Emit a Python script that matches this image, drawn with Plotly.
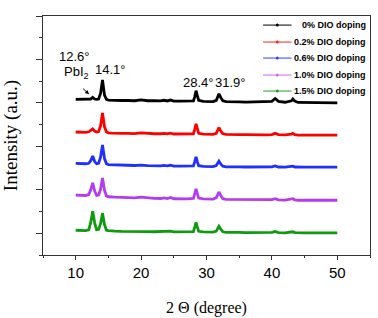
import plotly.graph_objects as go

# 2-theta positions (degrees)
two_theta = [10, 10.5, 11, 11.5, 12, 12.3, 12.6, 12.9, 13.2, 13.5, 13.8, 14.1, 14.4, 14.7, 15,
             15.5, 16, 17, 18, 19, 20, 21, 22, 23, 23.5, 24, 24.5, 25, 26, 27,
             28, 28.2, 28.4, 28.6, 28.8, 29.5, 30, 31, 31.5, 31.9, 32.2, 32.5, 33, 34, 35,
             36, 37, 38, 39, 40, 40.5, 41, 42, 43, 43.2, 43.5, 44, 45, 46, 47, 48, 49, 50]

labels = ["0% DIO doping", "0.2% DIO doping", "0.6% DIO doping", "1.0% DIO doping", "1.5% DIO doping"]
offsets = [3.0, 2.25, 1.5, 0.75, 0.0]

i_0 = [0.08, 0.08, 0.075, 0.075, 0.08, 0.09, 0.13, 0.09, 0.08, 0.09, 0.22, 0.53, 0.18, 0.08, 0.065,
       0.06, 0.06, 0.055, 0.055, 0.05, 0.07, 0.05, 0.05, 0.045, 0.06, 0.045, 0.065, 0.04, 0.04, 0.035,
       0.045, 0.14, 0.28, 0.17, 0.06, 0.035, 0.03, 0.03, 0.06, 0.21, 0.12, 0.05, 0.03, 0.035, 0.025,
       0.02, 0.02, 0.02, 0.02, 0.035, 0.10, 0.035, 0.015, 0.05, 0.09, 0.04, 0.01, 0.01, 0.005, 0.005, 0.0, 0.0, 0.0]
i_02 = [0.08, 0.075, 0.075, 0.07, 0.085, 0.11, 0.15, 0.10, 0.08, 0.09, 0.22, 0.52, 0.20, 0.08, 0.06,
        0.055, 0.05, 0.05, 0.05, 0.045, 0.06, 0.045, 0.04, 0.04, 0.05, 0.04, 0.055, 0.035, 0.035, 0.03,
        0.04, 0.14, 0.27, 0.16, 0.05, 0.03, 0.03, 0.025, 0.05, 0.18, 0.10, 0.04, 0.025, 0.03, 0.02,
        0.02, 0.015, 0.015, 0.015, 0.02, 0.05, 0.02, 0.015, 0.03, 0.05, 0.02, 0.01, 0.01, 0.01, 0.01, 0.01, 0.01, 0.01]
i_06 = [0.11, 0.105, 0.10, 0.10, 0.11, 0.17, 0.28, 0.15, 0.10, 0.11, 0.25, 0.53, 0.22, 0.10, 0.08,
        0.075, 0.07, 0.07, 0.065, 0.06, 0.07, 0.055, 0.05, 0.05, 0.06, 0.05, 0.065, 0.045, 0.045, 0.04,
        0.05, 0.15, 0.26, 0.15, 0.055, 0.04, 0.035, 0.035, 0.06, 0.16, 0.09, 0.045, 0.03, 0.035, 0.03,
        0.025, 0.025, 0.02, 0.025, 0.03, 0.05, 0.025, 0.02, 0.03, 0.045, 0.025, 0.02, 0.02, 0.02, 0.02, 0.02, 0.02, 0.02]
i_10 = [0.13, 0.125, 0.12, 0.12, 0.14, 0.25, 0.41, 0.22, 0.12, 0.13, 0.26, 0.52, 0.24, 0.11, 0.09,
        0.08, 0.08, 0.075, 0.07, 0.065, 0.08, 0.06, 0.055, 0.05, 0.065, 0.05, 0.075, 0.045, 0.04, 0.04,
        0.05, 0.16, 0.27, 0.16, 0.06, 0.04, 0.035, 0.035, 0.07, 0.20, 0.11, 0.045, 0.03, 0.03, 0.025,
        0.02, 0.02, 0.015, 0.02, 0.025, 0.045, 0.02, 0.015, 0.03, 0.045, 0.02, 0.01, 0.01, 0.01, 0.01, 0.01, 0.01, 0.01]
i_15 = [0.07, 0.065, 0.06, 0.06, 0.08, 0.25, 0.51, 0.24, 0.08, 0.09, 0.22, 0.46, 0.20, 0.07, 0.06,
        0.05, 0.05, 0.045, 0.045, 0.04, 0.055, 0.04, 0.035, 0.035, 0.05, 0.035, 0.05, 0.03, 0.03, 0.03,
        0.04, 0.14, 0.25, 0.14, 0.045, 0.03, 0.025, 0.025, 0.05, 0.16, 0.09, 0.035, 0.02, 0.025, 0.02,
        0.015, 0.015, 0.015, 0.02, 0.02, 0.04, 0.015, 0.01, 0.02, 0.035, 0.015, 0.01, 0.01, 0.01, 0.01, 0.01, 0.01, 0.01]

series = [i_0, i_02, i_06, i_10, i_15]
colors = ["#000000", "#ff0000", "#1f2fff", "#b43cf0", "#0f9a0f"]
legend_colors = ["#000000", "#ff2020", "#3040ff", "#cc66ff", "#2a9a2a"]

fig = go.Figure()
for vals, off, col, lab in zip(series, offsets, colors, labels):
    fig.add_trace(go.Scatter(
        x=two_theta, y=[v + off for v in vals], mode="lines", name=lab,
        line=dict(color=col, width=2.8), showlegend=False))

# compact legend (rows in paper coordinates)
legend_rows = [0.962, 0.891, 0.824, 0.753, 0.686]
leg_font = dict(family="Liberation Sans, Arial, sans-serif", size=9, color="black", weight="bold")
for lab, col, yr in zip(labels, legend_colors, legend_rows):
    fig.add_shape(type="line", xref="paper", yref="paper", x0=0.673, x1=0.76, y0=yr, y1=yr,
                  line=dict(color=col, width=1))
    fig.add_shape(type="circle", xref="paper", yref="paper", x0=0.712, x1=0.721,
                  y0=yr - 0.0063, y1=yr + 0.0063, fillcolor=col, line=dict(color=col, width=0))
    fig.add_annotation(x=0.994, y=yr, xref="paper", yref="paper", text=lab, showarrow=False,
                       xanchor="right", yanchor="middle", font=leg_font)

ann_font = dict(family="Liberation Sans, Arial, sans-serif", size=13, color="black")
annotations = [
    dict(x=9.85, y=4.07, text="12.6°"),
    dict(x=10.15, y=3.70, text="PbI<sub>2</sub>"),
    dict(x=15.36, y=3.77, text="14.1°"),
    dict(x=28.7, y=3.47, text="28.4°"),
    dict(x=33.6, y=3.47, text="31.9°"),
]
for a in annotations:
    fig.add_annotation(x=a["x"], y=a["y"], text=a["text"], showarrow=False,
                       font=ann_font, xref="x", yref="y")
# arrow to the PbI2 peak
fig.add_annotation(x=12.05, y=3.2, ax=10.9, ay=3.36, xref="x", yref="y", axref="x", ayref="y",
                   text="", showarrow=True, arrowhead=2, arrowsize=0.8, arrowwidth=1, arrowcolor="black")

fig.update_layout(
    width=378, height=318,
    margin=dict(l=43, r=8, t=16, b=63),
    paper_bgcolor="white", plot_bgcolor="white",
    showlegend=False,
)
fig.update_xaxes(
    range=[5, 55], tickmode="linear", tick0=10, dtick=10, automargin=False,
    ticks="outside", ticklen=4, tickcolor="#333", showline=True, linecolor="#333", linewidth=1,
    mirror=True, showgrid=False, zeroline=False,
    minor=dict(tick0=5, dtick=5, ticks="outside", ticklen=2, tickcolor="#333", showgrid=False),
    tickfont=dict(family="Liberation Sans, Arial, sans-serif", size=15, color="black"),
    title=dict(text="2 Θ (degree)", standoff=21,
               font=dict(family="Liberation Serif, Times New Roman, serif", size=16, color="black")),
)
fig.update_yaxes(
    range=[-0.5, 5.0], tickmode="linear", tick0=0, dtick=1, automargin=False,
    ticks="outside", ticklen=6, tickcolor="#333", showline=True, linecolor="#333", linewidth=1,
    mirror=True, showgrid=False, zeroline=False, showticklabels=False,
    minor=dict(tick0=0.5, dtick=1, ticks="outside", ticklen=3, tickcolor="#333", showgrid=False),
    title=dict(text="Intensity (a.u.)", standoff=16,
               font=dict(family="Liberation Serif, Times New Roman, serif", size=19, color="black")),
)

fig.write_html("out.html", config={"displayModeBar": False},
               post_script="document.body.style.margin='0';")
